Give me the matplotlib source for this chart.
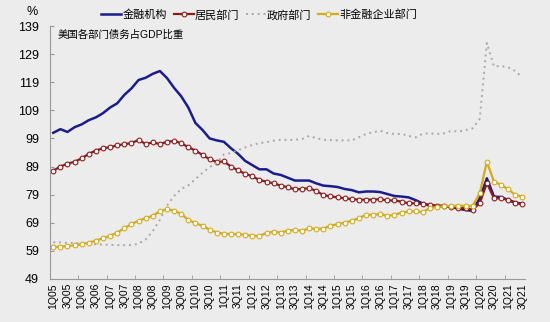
import matplotlib
matplotlib.use("Agg")
import matplotlib.pyplot as plt
import numpy as np

plt.rcParams["font.family"] = ["Liberation Sans", "Noto Sans CJK SC"]

# 1Q05 .. 3Q21, quarterly
quarters = [f"{q}Q{y:02d}" for y in range(5, 22) for q in (1, 2, 3, 4)][:67]

financial = [101.0, 102.3, 101.3, 103.0, 104.0, 105.5, 106.5, 108.0, 110.0, 111.5,
             114.5, 116.8, 119.8, 120.6, 122.0, 123.0, 120.5, 117.0, 114.0, 110.0,
             104.5, 102.0, 99.0, 98.3, 97.8, 95.5, 93.5, 91.0, 89.5, 88.0,
             88.0, 86.5, 86.0, 85.0, 84.0, 84.0, 84.0, 83.0, 82.2, 82.0,
             81.7, 81.0, 80.6, 79.8, 80.1, 80.1, 79.9, 79.2, 78.5, 78.3,
             78.0, 77.0, 75.8, 75.2, 75.0, 74.8, 74.6, 74.0, 73.5, 73.2,
             77.7, 84.8, 78.3, 78.1, 77.1, 76.2, 75.7]

household = [87.5, 89.0, 90.0, 90.7, 91.9, 93.5, 94.7, 95.5, 95.9, 96.5,
             97.0, 97.3, 98.5, 97.0, 97.6, 97.0, 97.8, 98.1, 97.3, 95.9,
             94.7, 93.1, 91.6, 90.6, 90.8, 89.0, 87.6, 86.4, 85.5, 84.2,
             83.6, 83.0, 82.2, 81.6, 80.9, 81.0, 81.3, 80.3, 78.8, 78.4,
             78.0, 77.7, 77.4, 77.2, 77.2, 77.2, 77.4, 76.9, 76.9, 76.5,
             75.9, 75.9, 75.6, 75.3, 75.0, 75.1, 74.7, 74.4, 74.2, 73.6,
             75.9, 83.1, 77.7, 77.7, 77.1, 75.9, 75.7]

government = [62.0, 62.0, 61.8, 61.8, 61.6, 61.5, 61.3, 61.2, 61.1, 61.0,
              61.0, 61.0, 61.5, 63.0, 66.0, 70.0, 75.0, 78.5, 81.0, 82.3,
              84.5, 86.8, 88.8, 90.2, 93.3, 93.8, 94.8, 95.8, 96.7, 97.3,
              97.7, 98.2, 98.5, 98.5, 98.5, 98.8, 99.9, 99.1, 98.5, 98.4,
              98.3, 98.3, 98.3, 99.4, 100.6, 101.2, 101.7, 100.9, 100.6, 100.6,
              99.9, 99.4, 100.7, 100.8, 100.6, 100.8, 101.7, 101.4, 102.0, 102.6,
              106.0, 133.0, 124.6, 124.8, 124.3, 123.0, 120.7]

nonfin_corp = [60.3, 60.5, 60.7, 61.0, 61.3, 61.9, 62.6, 63.5, 64.3, 65.5,
               67.0, 68.5, 69.7, 70.6, 71.5, 73.0, 73.8, 73.3, 72.1, 70.0,
               68.8, 67.9, 66.5, 65.5, 65.0, 65.0, 64.9, 64.7, 64.3, 64.3,
               65.3, 65.8, 65.5, 66.2, 66.4, 66.1, 67.0, 66.8, 66.9, 67.9,
               68.5, 69.0, 69.7, 70.6, 71.8, 71.8, 72.1, 71.4, 71.8, 72.6,
               73.0, 73.0, 72.8, 74.2, 74.6, 74.8, 75.0, 75.0, 75.0, 75.0,
               79.5, 90.7, 83.6, 82.5, 80.9, 78.9, 78.3]

BG = "#ececec"
x = np.arange(len(quarters))

fig = plt.figure(figsize=(5.5, 3.22), dpi=100, facecolor=BG)
ax = fig.add_axes([0.091, 0.134, 0.864, 0.785], facecolor=BG)

ax.plot(x, financial, color="#1c1c8a", lw=1.8, label="金融机构")
ax.plot(x, household, color="#8c1c1c", lw=1.6, marker="o", markersize=3.4,
        markerfacecolor="white", markeredgewidth=0.8, label="居民部门")
ax.plot(x, government, color="#a8a8a8", lw=1.4, linestyle=(0, (1, 2)), label="政府部门")
ax.plot(x, nonfin_corp, color="#d4aa1e", lw=1.6, marker="o", markersize=3.4,
        markerfacecolor="white", markeredgewidth=0.8, label="非金融企业部门")

ax.set_xlim(-0.45, 66.4)
ax.set_ylim(49, 139)
ax.set_yticks(np.arange(49, 140, 10))

# labels every two quarters, tick marks at year boundaries
ax.set_xticks(x[::2])
ax.set_xticklabels(quarters[::2], rotation=90, fontsize=7.5)
ax.tick_params(axis="x", length=0, pad=3)
ax.set_xticks(np.arange(3.5, 66, 4), minor=True)
ax.tick_params(axis="x", which="minor", length=3, direction="in", color="#999999")
ax.tick_params(axis="y", labelsize=9, length=3, direction="in", color="#999999", pad=8)

for side in ("top", "right"):
    ax.spines[side].set_visible(False)
for side in ("left", "bottom"):
    ax.spines[side].set_color("#999999")
    ax.spines[side].set_linewidth(0.8)

ax.text(0.016, 0.985, "美国各部门债务占GDP比重", transform=ax.transAxes,
        fontsize=7.5, va="top", ha="left")
fig.text(0.058, 0.962, "%", fontsize=9, ha="center", va="center")

ax.legend(loc="lower center", bbox_to_anchor=(0.44, 1.005), ncol=4, frameon=False,
          fontsize=8, handlelength=1.8, handletextpad=0.1, columnspacing=0.6,
          numpoints=1, borderaxespad=0)

fig.savefig("out.png", dpi=100, facecolor=BG)
